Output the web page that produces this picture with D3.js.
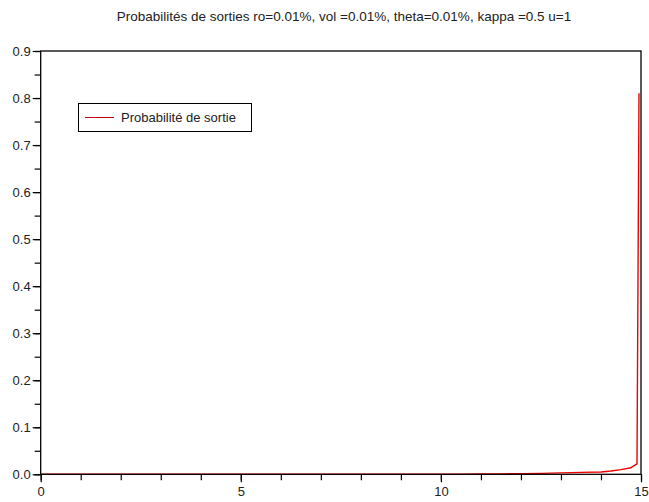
<!DOCTYPE html>
<html><head><meta charset="utf-8">
<script src="https://cdn.jsdelivr.net/npm/d3@7"></script>
<style>body{margin:0;background:#fff}svg{display:block}text{font-family:"Liberation Sans",Arial,sans-serif;fill:#222}</style>
</head><body>
<script>
const title = "Probabilités de sorties ro=0.01%, vol =0.01%, theta=0.01%, kappa =0.5 u=1";
const seriesName = "Probabilité de sortie";
const xValues = [0,1,2,3,4,5,6,7,8,9,10,10.5,11,11.5,12,12.5,13,13.5,14,14.25,14.5,14.75,14.9,14.95];
const yValues = [0,0,0,0,0,0,0,0,0,0.0001,0.0002,0.0004,0.0006,0.001,0.0014,0.002,0.003,0.004,0.005,0.007,0.01,0.014,0.022,0.81];
const xTicks = [0,5,10,15];
const yTicks = [0,0.1,0.2,0.3,0.4,0.5,0.6,0.7,0.8,0.9];

const W=649,H=502;
const x=d3.scaleLinear().domain([0,15]).range([40.7,641]);
const y=d3.scaleLinear().domain([0,0.9]).range([474.3,51]);
const svg=d3.select("body").append("svg").attr("width",W).attr("height",H);

svg.append("text").attr("x",344).attr("y",21).attr("text-anchor","middle").attr("font-size",13.5).text(title);

const g=svg.append("g");
// data line (under the axes)
const line=d3.line().x((d,i)=>x(xValues[i])).y(d=>y(d));
g.append("path").datum(yValues).attr("d",line).attr("fill","none").attr("stroke","#f00000").attr("stroke-width",1.4).attr("stroke-linejoin","round");

// box
g.append("rect").attr("x",x(0)).attr("y",y(0.9)).attr("width",x(15)-x(0)).attr("height",y(0)-y(0.9))
 .attr("fill","none").attr("stroke","#000").attr("stroke-width",1.3);

// x axis
const xm=g.append("g").attr("transform",`translate(0,${y(0)})`).call(d3.axisBottom(x).tickValues(d3.range(0,16)).tickFormat("").tickSize(6));
const xa=g.append("g").attr("transform",`translate(0,${y(0)})`).call(d3.axisBottom(x).tickValues(xTicks).tickFormat(d3.format("d")).tickSize(8).tickPadding(4));
// y axis
const ym=g.append("g").attr("transform",`translate(${x(0)},0)`).call(d3.axisLeft(y).tickValues(d3.range(0,19).map(i=>i*0.05)).tickFormat("").tickSize(6));
const ya=g.append("g").attr("transform",`translate(${x(0)},0)`).call(d3.axisLeft(y).tickValues(yTicks).tickFormat(d3.format(".1f")).tickSize(8).tickPadding(2));
[xa,xm,ya,ym].forEach(a=>{a.select(".domain").remove();a.selectAll("line").attr("stroke","#000").attr("stroke-width",1.2);a.selectAll("text").attr("font-size",13).attr("fill","#222").style("font-family","Liberation Sans, Arial, sans-serif");});
ya.selectAll("text").attr("dy","0.35em");

// legend
const lg=svg.append("g");
lg.append("rect").attr("x",78.5).attr("y",103.5).attr("width",173).attr("height",28).attr("fill","#fff").attr("stroke","#000").attr("stroke-width",1);
lg.append("line").attr("x1",85).attr("x2",114).attr("y1",117.5).attr("y2",117.5).attr("stroke","#c00010").attr("stroke-width",1);
lg.append("text").attr("x",121).attr("y",122).attr("font-size",13).text(seriesName);
</script>
</body></html>
